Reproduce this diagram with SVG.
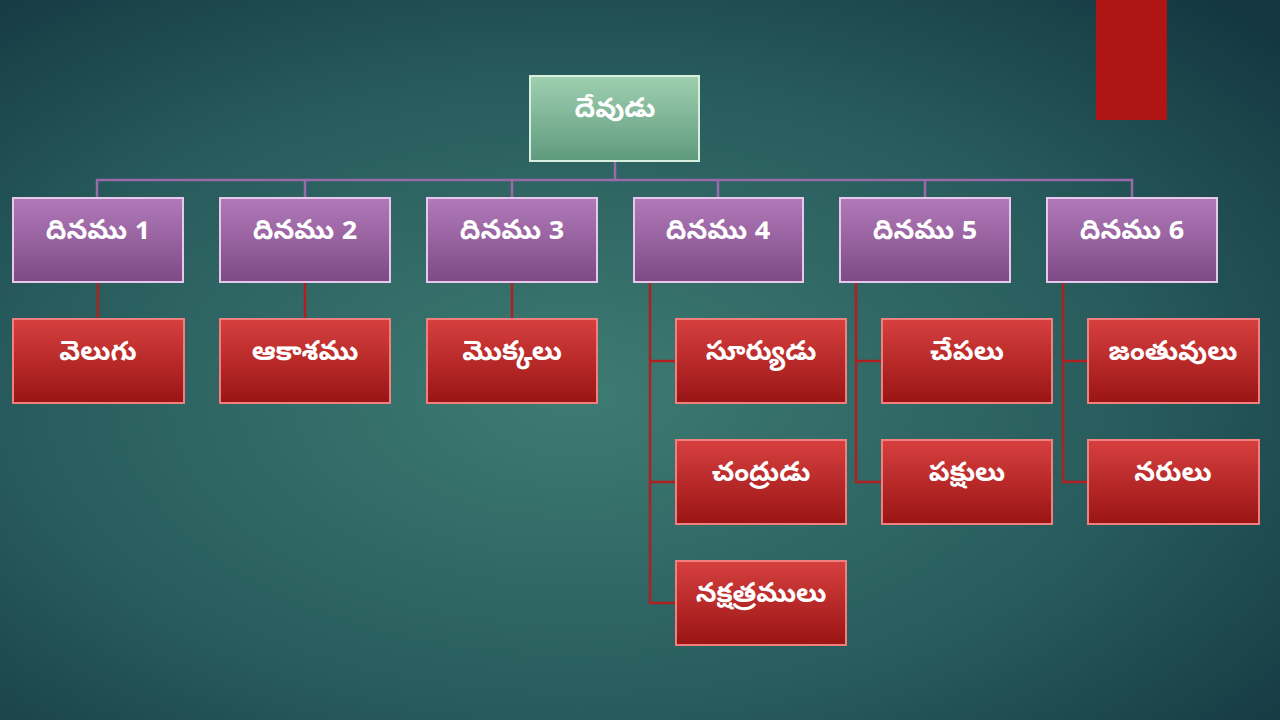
<svg xmlns="http://www.w3.org/2000/svg" width="1280" height="720" viewBox="0 0 1280 720">
<defs>
<radialGradient id="bg" cx="0.45" cy="0.55" r="0.75">
<stop offset="0" stop-color="#3e7b72"/><stop offset="0.6" stop-color="#275a5c"/><stop offset="1" stop-color="#133640"/>
</radialGradient>
<linearGradient id="gg" x1="0" y1="0" x2="0" y2="1"><stop offset="0" stop-color="#9fd0b0"/><stop offset="1" stop-color="#5f9a7e"/></linearGradient>
<linearGradient id="pg" x1="0" y1="0" x2="0" y2="1"><stop offset="0" stop-color="#b07ab8"/><stop offset="1" stop-color="#7e4a86"/></linearGradient>
<linearGradient id="rg" x1="0" y1="0" x2="0" y2="1"><stop offset="0" stop-color="#d6403f"/><stop offset="1" stop-color="#9a1414"/></linearGradient>
<style>
.g{fill:url(#gg);stroke:#d8efe0;stroke-width:2}
.p{fill:url(#pg);stroke:#e6c8ea;stroke-width:2}
.r{fill:url(#rg);stroke:#f08080;stroke-width:2}
.t{font-family:"Noto Sans Telugu","Noto Sans",sans-serif;font-weight:bold;font-size:27px;fill:#fff;text-anchor:middle;dominant-baseline:central}
.lp{stroke:#9a6aa8;stroke-width:2.5;fill:none}
.lr{stroke:#b02020;stroke-width:2.5;fill:none}
</style>
</defs>
<rect width="1280" height="720" fill="url(#bg)"/>
<rect x="1096" y="0" width="71" height="120" fill="#b01515"/>
<g id="connectors">
<path class="lp" d="M615 161V180M97 198V180H1132V198M305 180V198M512 180V198M718 180V198M925 180V198"/>
<path class="lr" d="M98 282V319M305 282V319M512 282V319M650 282V603H676M650 361H676M650 482H676M856 282V482H882M856 361H882M1063 282V482H1088M1063 361H1088"/>
</g>
<g id="root"><rect class="g" x="530" y="76" width="169" height="85"/><text class="t" x="615" y="112">దేవుడు</text></g>
<g id="d1"><rect class="p" x="13" y="198" width="170" height="84"/><text class="t" x="98" y="234">దినము 1</text></g>
<g id="d2"><rect class="p" x="220" y="198" width="170" height="84"/><text class="t" x="305" y="234">దినము 2</text></g>
<g id="d3"><rect class="p" x="427" y="198" width="170" height="84"/><text class="t" x="512" y="234">దినము 3</text></g>
<g id="d4"><rect class="p" x="634" y="198" width="169" height="84"/><text class="t" x="718" y="234">దినము 4</text></g>
<g id="d5"><rect class="p" x="840" y="198" width="170" height="84"/><text class="t" x="925" y="234">దినము 5</text></g>
<g id="d6"><rect class="p" x="1047" y="198" width="170" height="84"/><text class="t" x="1132" y="234">దినము 6</text></g>
<g id="c1"><rect class="r" x="13" y="319" width="171" height="84"/><text class="t" x="98" y="355">వెలుగు</text></g>
<g id="c2"><rect class="r" x="220" y="319" width="170" height="84"/><text class="t" x="305" y="355">ఆకాశము</text></g>
<g id="c3"><rect class="r" x="427" y="319" width="170" height="84"/><text class="t" x="512" y="355">మొక్కలు</text></g>
<g id="c4a"><rect class="r" x="676" y="319" width="170" height="84"/><text class="t" x="761" y="355">సూర్యుడు</text></g>
<g id="c4b"><rect class="r" x="676" y="440" width="170" height="84"/><text class="t" x="761" y="476">చంద్రుడు</text></g>
<g id="c4c"><rect class="r" x="676" y="561" width="170" height="84"/><text class="t" x="761" y="597">నక్షత్రములు</text></g>
<g id="c5a"><rect class="r" x="882" y="319" width="170" height="84"/><text class="t" x="967" y="355">చేపలు</text></g>
<g id="c5b"><rect class="r" x="882" y="440" width="170" height="84"/><text class="t" x="967" y="476">పక్షులు</text></g>
<g id="c6a"><rect class="r" x="1088" y="319" width="171" height="84"/><text class="t" x="1173" y="355">జంతువులు</text></g>
<g id="c6b"><rect class="r" x="1088" y="440" width="171" height="84"/><text class="t" x="1173" y="476">నరులు</text></g>
</svg>
